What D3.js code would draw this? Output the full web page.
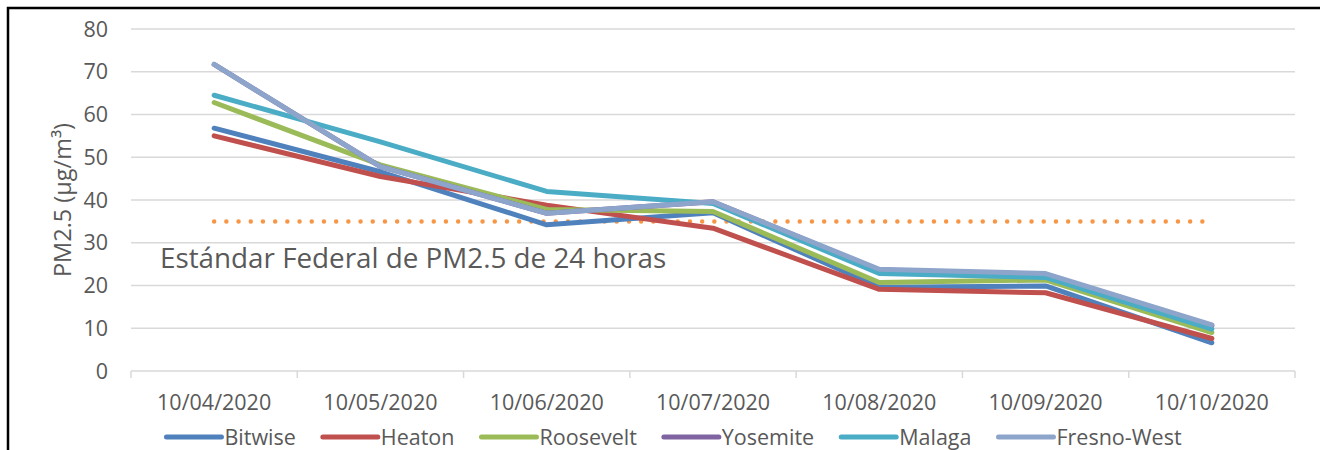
<!DOCTYPE html>
<html>
<head>
<meta charset="utf-8">
<script src="https://cdn.jsdelivr.net/npm/d3@7"></script>
<style>
  body { margin: 0; background: #fff; }
  text { font-family: "Open Sans", sans-serif; fill: #595959; }
</style>
</head>
<body>
<div id="chart"></div>
<script>
// data
var dates = ["10/04/2020", "10/05/2020", "10/06/2020", "10/07/2020", "10/08/2020", "10/09/2020", "10/10/2020"];
var bitwise    = [56.8, 46.6, 34.2, 37.0, 19.6, 19.9, 6.6];
var heaton     = [55.0, 45.5, 38.8, 33.4, 19.1, 18.3, 7.6];
var roosevelt  = [62.8, 48.2, 37.8, 37.3, 20.7, 21.3, 9.0];
var yosemite   = [71.7, 47.8, 36.9, 39.6, 23.6, 22.6, 10.6];
var malaga     = [64.5, 53.6, 42.0, 39.2, 22.8, 21.9, 9.8];
var fresnoWest = [71.7, 47.8, 36.9, 39.6, 23.8, 22.8, 10.8];
var standard   = [35, 35, 35, 35, 35, 35, 35];
var yTicks = [0, 10, 20, 30, 40, 50, 60, 70, 80];

var series = [
  {name: "Bitwise", values: bitwise, color: "#4F81BD"},
  {name: "Heaton", values: heaton, color: "#C0504D"},
  {name: "Roosevelt", values: roosevelt, color: "#9BBB59"},
  {name: "Yosemite", values: yosemite, color: "#8064A2"},
  {name: "Malaga", values: malaga, color: "#4BACC6"},
  {name: "Fresno-West", values: fresnoWest, color: "#8EA5CB"}
];

var W = 1320, H = 450;
var plot = {left: 131, right: 1295, top: 29, bottom: 371};

var svg = d3.select("#chart").append("svg")
    .attr("width", W)
    .attr("height", H);

// frame (top and left edges only are in view)
svg.append("path")
    .attr("d", "M8,450V8H1320")
    .attr("fill", "none")
    .attr("stroke", "#000")
    .attr("stroke-width", 2.5);

var x = d3.scaleBand().domain(dates).range([plot.left, plot.right]);
var y = d3.scaleLinear().domain([0, 80]).range([plot.bottom, plot.top]);
var cx = function(d) { return x(d) + x.bandwidth() / 2; };

// gridlines
svg.append("g")
    .selectAll("line")
    .data(yTicks.slice(1))
    .enter()
    .append("line")
    .attr("x1", plot.left)
    .attr("x2", plot.right)
    .attr("y1", function(d) { return y(d); })
    .attr("y2", function(d) { return y(d); })
    .attr("stroke", "#D9D9D9")
    .attr("stroke-width", 1.5);

// y labels
svg.append("g")
    .selectAll("text")
    .data(yTicks)
    .enter()
    .append("text")
    .attr("x", 108)
    .attr("y", function(d) { return y(d); })
    .attr("dy", "0.36em")
    .style("text-anchor", "end")
    .style("font-size", "21.5px")
    .text(function(d) { return d; });

// x axis: baseline + tick marks at category boundaries
var xAxis = svg.append("g");
xAxis.append("line")
    .attr("x1", plot.left).attr("x2", plot.right)
    .attr("y1", plot.bottom).attr("y2", plot.bottom)
    .attr("stroke", "#D9D9D9")
    .attr("stroke-width", 1.5);
var bounds = dates.map(function(d) { return x(d); }).concat([plot.right]);
xAxis.selectAll("line.tick")
    .data(bounds)
    .enter()
    .append("line")
    .attr("class", "tick")
    .attr("x1", function(d) { return d; })
    .attr("x2", function(d) { return d; })
    .attr("y1", plot.bottom)
    .attr("y2", plot.bottom + 7)
    .attr("stroke", "#D9D9D9")
    .attr("stroke-width", 1.5);
xAxis.selectAll("text")
    .data(dates)
    .enter()
    .append("text")
    .attr("x", cx)
    .attr("y", 410)
    .style("text-anchor", "middle")
    .style("font-size", "21.5px")
    .text(function(d) { return d; });

// y title
svg.append("text")
    .attr("transform", "translate(71," + ((plot.top + plot.bottom) / 2) + ") rotate(-90)")
    .style("text-anchor", "middle")
    .style("font-size", "23.5px")
    .text("PM2.5 (µg/m³)");

// 24h standard (dotted orange)
var line = d3.line()
    .x(function(d, i) { return cx(dates[i]); })
    .y(function(d) { return y(d); });

svg.append("path")
    .attr("d", line(standard))
    .attr("fill", "none")
    .attr("stroke", "#F79646")
    .attr("stroke-width", 4.5)
    .attr("stroke-linecap", "round")
    .attr("stroke-dasharray", "0,12.2");

svg.append("text")
    .attr("x", 160)
    .attr("y", 268)
    .style("font-size", "27.8px")
    .text("Estándar Federal de PM2.5 de 24 horas");

// series lines
svg.append("g")
    .selectAll("path")
    .data(series)
    .enter()
    .append("path")
    .attr("d", function(d) { return line(d.values); })
    .attr("fill", "none")
    .attr("stroke", function(d) { return d.color; })
    .attr("stroke-width", 5)
    .attr("stroke-linejoin", "round")
    .attr("stroke-linecap", "round");

// legend
var legend = svg.append("g");
var items = legend.selectAll("g")
    .data(series)
    .enter()
    .append("g");
items.append("line")
    .attr("x1", 0).attr("x2", 55)
    .attr("y1", 0).attr("y2", 0)
    .attr("stroke", function(d) { return d.color; })
    .attr("stroke-width", 5)
    .attr("stroke-linecap", "round");
items.append("text")
    .attr("x", 58)
    .attr("y", 0)
    .attr("dy", "0.36em")
    .style("font-size", "21.5px")
    .text(function(d) { return d.name; });

var pos = 0, gap = 27, offsets = [];
items.each(function() {
    var w = 58 + this.querySelector("text").getComputedTextLength();
    offsets.push(pos);
    pos += w + gap;
});
var total = pos - gap;
var start = 674 - total / 2;
items.attr("transform", function(d, i) { return "translate(" + (start + offsets[i]) + ",437)"; });
</script>
</body>
</html>
